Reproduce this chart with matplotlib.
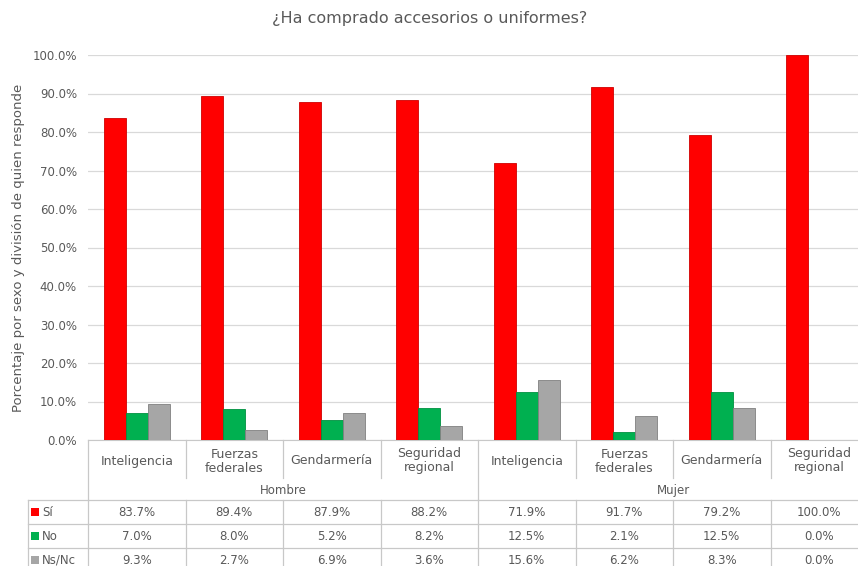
import numpy as np
import matplotlib.pyplot as plt
from matplotlib.transforms import blended_transform_factory
from matplotlib.patches import Rectangle
from matplotlib.lines import Line2D

plt.rcParams['font.family'] = ['DejaVu Sans']

divisiones = ['Inteligencia', 'Fuerzas\nfederales', 'Gendarmería', 'Seguridad\nregional',
              'Inteligencia', 'Fuerzas\nfederales', 'Gendarmería', 'Seguridad\nregional']
sexos = ['Hombre', 'Mujer']
respuestas = ['Sí', 'No', 'Ns/Nc']
si = [83.7, 89.4, 87.9, 88.2, 71.9, 91.7, 79.2, 100.0]
no = [7.0, 8.0, 5.2, 8.2, 12.5, 2.1, 12.5, 0.0]
nsnc = [9.3, 2.7, 6.9, 3.6, 15.6, 6.2, 8.3, 0.0]

colores = ['#FF0000', '#00B050', '#A6A6A6']
bordes = ['#D00000', '#009040', '#808080']
texto = '#595959'
linea = '#C8C8C8'

W, H = 858, 566
fig = plt.figure(figsize=(W / 100, H / 100), dpi=100)
# plot area in pixels: x 88..868 (right part falls off the canvas), y 55..440
ax = fig.add_axes([88 / W, 1 - 440 / H, 780 / W, 385 / H])

x = np.arange(len(divisiones))
bw = 0.226
for k, serie in enumerate([si, no, nsnc]):
    ax.bar(x + (k - 1) * bw, serie, bw, color=colores[k], edgecolor=bordes[k],
           linewidth=0.6, zorder=3)

ax.set_xlim(-0.5, len(divisiones) - 0.5)
ax.set_ylim(0, 100)
ax.set_yticks(np.arange(0, 101, 10))
ax.set_yticklabels([f'{v:.1f}%' for v in np.arange(0, 101, 10)])
ax.set_xticks([])
ax.tick_params(axis='y', length=0, labelsize=8.5, labelcolor=texto, pad=8)
ax.yaxis.grid(True, color='#D9D9D9', linewidth=0.9, zorder=0)
for s in ['top', 'right', 'left']:
    ax.spines[s].set_visible(False)
ax.spines['bottom'].set_color(linea)

ax.set_ylabel('Porcentaje por sexo y división de quien responde', fontsize=9.5,
              color=texto)
ax.yaxis.set_label_coords(-63 / 780, 0.5)
fig.text(430 / W, 1 - 18 / H, '¿Ha comprado accesorios o uniformes?', ha='center',
         va='center', fontsize=11.5, color=texto)

# data table under the plot: x in data units, y in figure pixels
tr = blended_transform_factory(ax.transData, fig.transFigure)
trf = fig.transFigure


def fy(px):
    return 1 - px / H


def hline(x0, x1, py, transform=tr):
    fig.add_artist(Line2D([x0, x1], [fy(py), fy(py)], color=linea, lw=0.9,
                          transform=transform, clip_on=False))


def vline(xv, p0, p1, transform=tr):
    fig.add_artist(Line2D([xv, xv], [fy(p0), fy(p1)], color=linea, lw=0.9,
                          transform=transform, clip_on=False))


n = len(divisiones)
for i, lab in enumerate(divisiones):
    ax.text(i, fy(461), lab, transform=tr, ha='center', va='center',
            fontsize=9, color=texto, linespacing=1.1, clip_on=False)
for i in range(1, n):
    if i == 4:
        vline(i - 0.5, 440, 500)
    else:
        vline(i - 0.5, 440, 478)
vline(-0.5, 440, 566)
for g, nombre in enumerate(sexos):
    ax.text(1.5 + 4 * g, fy(494), nombre, transform=tr, ha='center', va='baseline',
            fontsize=8.5, color=texto, clip_on=False)

filas_y = [500, 524, 548]
for py in filas_y:
    hline(-0.5, n, py)
    fig.add_artist(Line2D([28 / W, 88 / W], [fy(py), fy(py)], color=linea, lw=0.9,
                          transform=trf))
fig.add_artist(Line2D([28 / W, 28 / W], [fy(500), fy(566)], color=linea, lw=0.9,
                      transform=trf))
for i in range(1, n):
    vline(i - 0.5, 500, 566)

for r, (nombre, serie) in enumerate(zip(respuestas, [si, no, nsnc])):
    cy = filas_y[r] + 12
    fig.add_artist(Rectangle((31 / W, fy(cy + 4)), 8 / W, 8 / H, transform=trf,
                             facecolor=colores[r], edgecolor='none'))
    fig.text(42 / W, fy(cy), nombre, ha='left', va='center', fontsize=8.5,
             color=texto)
    for i, v in enumerate(serie):
        ax.text(i, fy(cy), f'{v:.1f}%', transform=tr, ha='center', va='center',
                fontsize=8.5, color=texto, clip_on=False)

fig.savefig('out.png', dpi=100)
